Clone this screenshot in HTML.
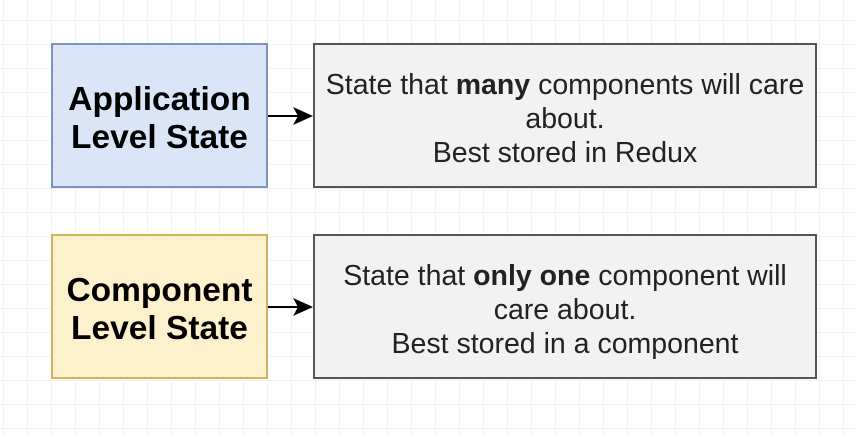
<!DOCTYPE html>
<html><head><style>
body{margin:0;width:856px;height:436px;overflow:hidden;background:#fff;
background-image:linear-gradient(#f2f2f2 1px,transparent 1px),linear-gradient(90deg,#f2f2f2 1px,transparent 1px);background-size:24px 24px;background-position:3px 20px;
font-family:"Liberation Sans",sans-serif;position:relative}
.b{position:absolute;box-sizing:border-box;border:2px solid;display:flex;align-items:center;justify-content:center;text-align:center;padding-top:6px}
.l{font-weight:bold;font-size:33.5px;line-height:38px;color:#000}
.r{background:#f2f2f2;border-color:#555;font-size:28.5px;line-height:34px;color:#222}
svg{position:absolute;left:0;top:0}
</style></head><body>
<div class="b l" style="left:51px;top:43px;width:217px;height:145px;background:#dae6f8;border-color:#7d93be"><div>Application<br>Level State</div></div>
<div class="b r" style="left:313px;top:43px;width:504px;height:145px"><div>State that <b>many</b> components will care<br>about.<br>Best stored in Redux</div></div>
<div class="b l" style="left:51px;top:234px;width:217px;height:145px;background:#fdf1cd;border-color:#cfb45d"><div>Component<br>Level State</div></div>
<div class="b r" style="left:313px;top:234px;width:504px;height:145px"><div>State that <b>only one</b> component will<br>care about.<br>Best stored in a component</div></div>
<svg width="856" height="436">
<line x1="268" y1="116" x2="300" y2="116" stroke="#000" stroke-width="2"/>
<polygon points="313,116 293,107 298,116 293,125" fill="#000"/>
<line x1="268" y1="307" x2="300" y2="307" stroke="#000" stroke-width="2"/>
<polygon points="313,307 293,298 298,307 293,316" fill="#000"/>
</svg>
</body></html>
